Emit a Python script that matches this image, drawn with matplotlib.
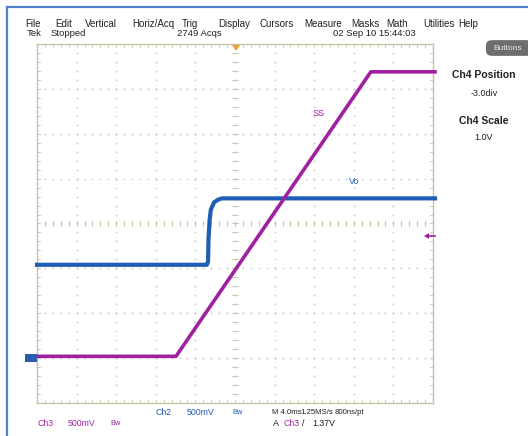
import numpy as np
import matplotlib
matplotlib.use("Agg")
import matplotlib.pyplot as plt
from matplotlib.patches import FancyBboxPatch, Rectangle, Polygon

plt.rcParams['font.family'] = ['Liberation Sans Narrow', 'Liberation Sans', 'DejaVu Sans']

# ── Trace data (screen divisions: x 0..10, y -4..+4) ──────────
ss_x = [0.0, 3.51, 8.43, 10.05]
ss_y = [-2.96, -2.96, 3.38, 3.38]

vo_x = [0.0, 4.29, 4.32, 4.33, 4.36, 4.39, 4.47, 4.57, 4.67, 10.05]
vo_y = [-0.92, -0.92, -0.84, -0.36, 0.09, 0.31, 0.47, 0.53, 0.56, 0.56]

menu_items = ['File', 'Edit', 'Vertical', 'Horiz/Acq', 'Trig', 'Display',
              'Cursors', 'Measure', 'Masks', 'Math', 'Utilities', 'Help']
menu_x = [25, 55, 85, 132, 182, 218, 260, 304, 351, 386, 423, 458]

W, H = 528, 436
MAGENTA = '#a0209f'
BLUE = '#1f5db4'
TEXT = '#202020'
FRAME = '#c4c4a4'
DOTS = '#c2c2c2'

fig = plt.figure(figsize=(W / 100, H / 100), dpi=100)
fig.patch.set_facecolor('white')


def px(x, y):
    # pixel position (from top-left) -> figure fraction
    return x / W, 1 - y / H


# ── Outer blue frame ──────────────────────────────────────
fig.add_artist(plt.Line2D([7 / W, 7 / W], [0, 1 - 7 / H], color='#4f82c6', lw=1.6))
fig.add_artist(plt.Line2D([7 / W, 1], [1 - 7 / H, 1 - 7 / H], color='#4f82c6', lw=1.6))

# ── Menu bar and status line ──────────────────────────────
for name, x in zip(menu_items, menu_x):
    fig.text(*px(x, 24), name, fontsize=7, color=TEXT, va='center', ha='left')
fig.text(*px(27, 34), 'Tek', fontsize=6.8, color=TEXT, va='center')
fig.text(*px(51, 34), 'Stopped', fontsize=6.8, color=TEXT, va='center')
fig.text(*px(177, 34), '2749 Acqs', fontsize=6.8, color=TEXT, va='center')
fig.text(*px(333, 34), '02 Sep 10 15:44:03', fontsize=6.8, color=TEXT, va='center')

# ── Side panel ────────────────────────────────────────────
btn = FancyBboxPatch(px(487, 55), 45 / W, 14 / H, boxstyle='round,pad=0.002,rounding_size=0.012',
                     transform=fig.transFigure, facecolor='#6e6e6e', edgecolor='none')
fig.add_artist(btn)
fig.text(*px(508, 48), 'Buttons', fontsize=6, color='#e8e8e8', va='center', ha='center')
fig.text(*px(484, 75), 'Ch4 Position', fontsize=7.5, color=TEXT, va='center', ha='center', weight='bold')
fig.text(*px(484, 93), '-3.0div', fontsize=6.5, color=TEXT, va='center', ha='center')
fig.text(*px(484, 121), 'Ch4 Scale', fontsize=7.5, color=TEXT, va='center', ha='center', weight='bold')
fig.text(*px(484, 138), '1.0V', fontsize=6.5, color=TEXT, va='center', ha='center')

# ── Graticule ─────────────────────────────────────────────
left, right, top, bottom = 37, 433, 44, 403
ax = fig.add_axes([left / W, 1 - bottom / H, (right - left) / W, (bottom - top) / H])
ax.set_xlim(0, 10)
ax.set_ylim(-4, 4)
ax.set_xticks([])
ax.set_yticks([])
for s in ax.spines.values():
    s.set_color(FRAME)
    s.set_linewidth(1.0)

minor_x = np.arange(0, 10.01, 0.2)
minor_y = np.arange(-4, 4.01, 0.2)
# dotted grid lines at each major division
for gx in range(1, 10):
    ax.plot(np.full_like(minor_y, gx), minor_y, ls='none', marker='s', ms=1.1,
            mew=0, color=DOTS, zorder=1)
for gy in range(-3, 4):
    ax.plot(minor_x, np.full_like(minor_x, gy), ls='none', marker='s', ms=1.1,
            mew=0, color=DOTS, zorder=1)

# small tick marks along the centre cross and the frame edges
tick = 0.06
tx = tick * (359 / 8) / (396 / 10)
for xv in minor_x:
    for lo, hi in [(-tick, tick), (-4, -4 + tick), (4 - tick, 4)]:
        ax.plot([xv, xv], [lo, hi], color=FRAME, lw=0.6, zorder=1)
for yv in minor_y:
    for lo, hi in [(5 - tx, 5 + tx), (0, tx), (10 - tx, 10)]:
        ax.plot([lo, hi], [yv, yv], color=FRAME, lw=0.6, zorder=1)

# ── Traces ────────────────────────────────────────────────
ax.plot(vo_x, vo_y, color=BLUE, lw=3.0, solid_joinstyle='round', zorder=3, clip_on=False)
ax.plot(ss_x, ss_y, color=MAGENTA, lw=2.6, solid_joinstyle='round', zorder=4, clip_on=False)

ax.text(7.1, 2.46, 'SS', color=MAGENTA, fontsize=6.5, ha='center', va='center')
ax.text(8.0, 0.93, 'Vo', color=BLUE, fontsize=6.5, ha='center', va='center')

# trigger position marker (top) and level arrow (right)
fig.add_artist(Polygon([px(232, 45), px(240, 45), px(236, 51)], closed=True,
                       transform=fig.transFigure, facecolor='#f0a030', edgecolor='none'))
fig.add_artist(plt.Line2D([427 / W, 435 / W], [1 - 236 / H] * 2, color=MAGENTA, lw=1.2))
fig.add_artist(Polygon([px(424, 236), px(429, 233), px(429, 239)], closed=True,
                       transform=fig.transFigure, facecolor=MAGENTA, edgecolor='none'))

# channel ground marker
fig.add_artist(Rectangle(px(25, 362), 12 / W, 8 / H, transform=fig.transFigure,
                         facecolor='#2a5cb0', edgecolor='none'))

# ── Bottom readouts ───────────────────────────────────────
fs = 6.3
fss = 5.6
fig.text(*px(155, 412), 'Ch2', fontsize=fs, color=BLUE, va='center')
fig.text(*px(187, 412), '500mV', fontsize=fs, color=BLUE, va='center')
fig.text(*px(232, 412), 'Bw', fontsize=5.3, color=BLUE, va='center')
fig.text(*px(272, 412), 'M 4.0ms', fontsize=fss, color=TEXT, va='center')
fig.text(*px(300, 412), '1.25MS/s', fontsize=fss, color=TEXT, va='center')
fig.text(*px(335, 412), '800ns/pt', fontsize=fss, color=TEXT, va='center')
fig.text(*px(37, 423), 'Ch3', fontsize=fs, color=MAGENTA, va='center')
fig.text(*px(68, 423), '500mV', fontsize=fs, color=MAGENTA, va='center')
fig.text(*px(110, 423), 'Bw', fontsize=5.3, color=MAGENTA, va='center')
fig.text(*px(273, 423), 'A', fontsize=fs, color=TEXT, va='center')
fig.text(*px(283, 423), 'Ch3', fontsize=fs, color=MAGENTA, va='center')
fig.text(*px(302, 423), '/', fontsize=fs, color=TEXT, va='center')
fig.text(*px(312, 423), '1.37V', fontsize=fs, color=TEXT, va='center')

fig.savefig('out.png', dpi=100, facecolor='white')
